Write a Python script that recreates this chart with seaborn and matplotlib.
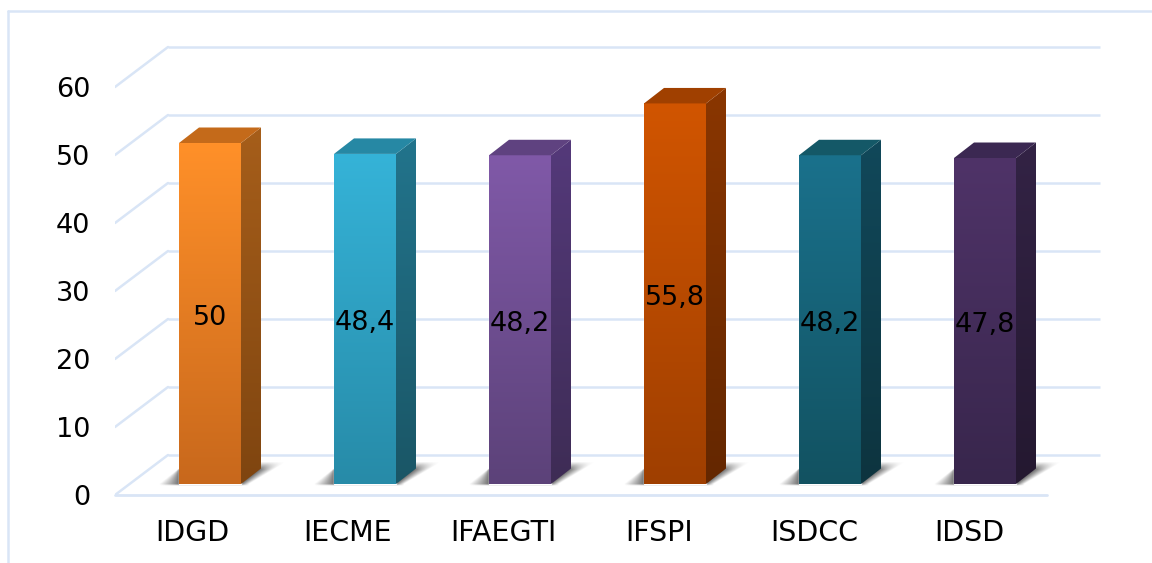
import numpy as np
import matplotlib
matplotlib.use("Agg")
import matplotlib.pyplot as plt
from matplotlib.colors import to_rgb
from matplotlib.lines import Line2D
from matplotlib.patches import Polygon
import seaborn as sns

categories = ["IDGD", "IECME", "IFAEGTI", "IFSPI", "ISDCC", "IDSD"]
values = [50, 48.4, 48.2, 55.8, 48.2, 47.8]
y_ticks = [0, 10, 20, 30, 40, 50, 60]

front_top = ["#FF9029", "#35B3D8", "#8059A8", "#D15500", "#1A718C", "#4F3368"]
front_bottom = ["#C8681C", "#278BA8", "#5C4279", "#9F3F00", "#125261", "#38264C"]
side_top = ["#A65E1A", "#22748C", "#54397A", "#8A3600", "#11485A", "#332345"]
side_bottom = ["#7F4510", "#1A5666", "#3E2C55", "#642700", "#0D343F", "#241830"]
roof = ["#C46A1A", "#2688A4", "#5F4280", "#A04000", "#145867", "#3B2852"]

grid_col = "#D9E5F6"
W, H = 1152, 563
PX_X, PX_Y = 155.0, 6.82  # pixels per category / per value unit

sns.set_theme(style="white")
plt.rcParams["font.family"] = ["DejaVu Sans"]

fig = plt.figure(figsize=(W / 100, H / 100), dpi=100, facecolor="white")
left, right, bottom, top = 115, 1140, 495, 11
ax = fig.add_axes([left / W, 1 - bottom / H, (right - left) / W, (bottom - top) / H])

sns.barplot(x=categories, y=values, hue=categories, palette=front_top, width=0.4,
            legend=False, saturation=1, ax=ax, zorder=4)

xlim = ((left - 210) / PX_X, (right - 210) / PX_X)
ylim = ((484 - bottom) / PX_Y, (484 - top) / PX_Y)

# depth of the fake 3d box
back_dx, back_dy = 53 / PX_X, 40 / PX_Y
bar_dx, bar_dy = 20 / PX_X, 15.5 / PX_Y
floor = (484 - 495) / PX_Y
front_y = [floor + v * 6.8 / PX_Y for v in y_ticks]
x0 = xlim[0]
x1 = x0 + 932 / PX_X


def shade(pts, c_top, c_bottom, z):
    # vertical gradient clipped to a polygon
    pts = np.array(pts)
    grad = np.linspace(to_rgb(c_top), to_rgb(c_bottom), 128)[:, None, :]
    extent = (pts[:, 0].min(), pts[:, 0].max(), pts[:, 1].min(), pts[:, 1].max())
    im = ax.imshow(grad, extent=extent, origin="upper", aspect="auto", zorder=z)
    im.set_clip_path(Polygon(pts, transform=ax.transData))


def shadow(xa, xb, z):
    # soft floor shadow, worked out in pixels from the bar foot
    px = np.arange(-24, (xb - xa) * PX_X + 50, 0.5)
    py = np.arange(-2, 22, 0.5)
    gx, gy = np.meshgrid(px, py)
    wid = (xb - xa) * PX_X
    up = np.clip(gy, 0, None)
    fade_l = np.clip((gx + 20 - 1.3 * up) / (20 - 1.3 * np.minimum(up, 14)), 0, 1)
    fade_r = np.clip((wid + 8 + 1.7 * up - gx) / (8 + 0.41 * up), 0, 1)
    fade_y = np.clip((gy + 2) / 2, 0, 1) * np.clip((22 - gy) / 8, 0, 1)
    rgba = np.zeros(gx.shape + (4,))
    rgba[..., :3] = 0.3
    rgba[..., 3] = 0.8 * fade_l * fade_r * fade_y
    ax.imshow(rgba, origin="lower", aspect="auto", zorder=z,
              extent=(xa + px[0] / PX_X, xa + px[-1] / PX_X, py[0] / PX_Y, py[-1] / PX_Y))


# wall and floor lines
for v, fy in zip(y_ticks, front_y):
    by = fy + back_dy
    ax.plot([x0 + back_dx, x1 + back_dx], [by, by], color=grid_col, lw=1.8, zorder=1,
            solid_capstyle="butt")
    ax.plot([x0, x0 + back_dx], [fy, by], color=grid_col, lw=1.8, zorder=1)
ax.plot([x0, x1], [floor, floor], color=grid_col, lw=2, zorder=1, clip_on=False)

bars = sorted(ax.patches, key=lambda p: p.get_x())
for i, p in enumerate(bars):
    xa, xb = p.get_x(), p.get_x() + p.get_width()
    h = p.get_height()
    shadow(xa, xb, 2)
    shade([(xa, 0), (xb, 0), (xb, h), (xa, h)], front_top[i], front_bottom[i], 5)
    shade([(xb, 0), (xb + bar_dx, bar_dy), (xb + bar_dx, h + bar_dy), (xb, h)],
          side_top[i], side_bottom[i], 5)
    ax.add_patch(Polygon([(xa, h), (xb, h), (xb + bar_dx, h + bar_dy), (xa + bar_dx, h + bar_dy)],
                         facecolor=roof[i], edgecolor="none", zorder=5))
    label = f"{values[i]:g}".replace(".", ",")
    ax.text(p.get_x() + p.get_width() / 2, h / 2 - 0.65, label, ha="center", va="center",
            fontsize=19.5, color="black", zorder=6)

ax.set_xlim(xlim)
ax.set_ylim(ylim)

ax.set_xticks([x0 + (i + 0.5) * (x1 - x0) / 6 for i in range(6)], categories)
ax.set_yticks(front_y, [str(v) for v in y_ticks])
ax.tick_params(axis="x", length=0, pad=17.5, labelsize=20.5, labelcolor="black")
ax.tick_params(axis="y", length=0, pad=18, labelsize=19.5, labelcolor="black")
ax.set_xlabel("")
ax.set_ylabel("")
sns.despine(ax=ax, left=True, bottom=True)
ax.patch.set_alpha(0)

# outer chart frame
fig.add_artist(Line2D([8 / W, 8 / W], [0, 1 - 11 / H], color=grid_col, lw=1.8))
fig.add_artist(Line2D([8 / W, 1], [1 - 11 / H, 1 - 11 / H], color=grid_col, lw=1.8))

fig.savefig("out.png", dpi=100)
